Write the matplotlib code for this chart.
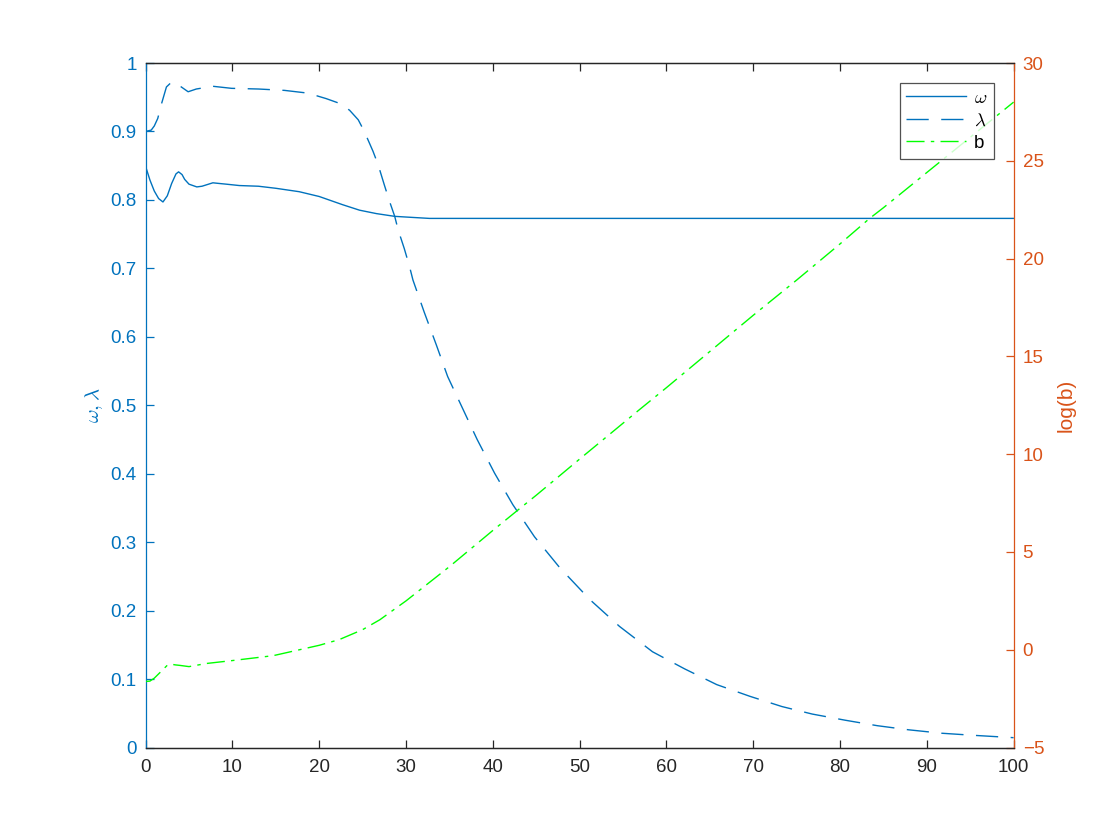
import matplotlib
matplotlib.use("Agg")
import matplotlib.pyplot as plt

# ---- data ----
x_omega = [0, 0.5, 1.0, 1.5, 2.0, 2.5, 3.0, 3.5, 3.8, 4.2, 4.5, 5.0, 5.9, 6.5, 7.0,
           7.75, 8.5, 9.3, 10.8, 13, 15, 17.7, 20, 22.7, 24.65, 26.6, 28.7, 30,
           32.7, 35, 40, 50, 60, 70, 80, 90, 100]
omega = [0.849, 0.829, 0.813, 0.802, 0.797, 0.806, 0.824, 0.838, 0.841, 0.837,
         0.830, 0.823, 0.819, 0.820, 0.822, 0.825, 0.824, 0.823, 0.821, 0.820,
         0.817, 0.812, 0.805, 0.793, 0.785, 0.780, 0.776, 0.775, 0.773, 0.773,
         0.773, 0.773, 0.773, 0.773, 0.773, 0.773, 0.773]

x_lambda = [0, 0.65, 1.0, 1.4, 1.8, 2.4, 2.9, 3.46, 4.0, 4.9, 5.84, 7.75, 9.9,
            13, 16, 18.7, 20.8, 22.35, 23.5, 24.5, 25.2, 26.2, 26.8, 27.5, 28.1,
            28.7, 29.1, 29.8, 30.4, 30.8, 32.1, 33.5, 34.8, 36.5, 38.2, 40.2,
            42.3, 44.8, 47.7, 51.2, 54.6, 58.4, 62.1, 65.8, 69.6, 73.3, 76.8,
            80.6, 84.3, 87.9, 91.7, 95.3, 100]
lam = [0.900, 0.902, 0.908, 0.919, 0.939, 0.965, 0.971, 0.972, 0.966, 0.958,
       0.962, 0.966, 0.963, 0.962, 0.960, 0.956, 0.948, 0.941, 0.931, 0.917,
       0.900, 0.871, 0.851, 0.822, 0.798, 0.776, 0.756, 0.729, 0.703, 0.683,
       0.636, 0.588, 0.542, 0.496, 0.450, 0.401, 0.355, 0.308, 0.263, 0.216,
       0.177, 0.140, 0.115, 0.092, 0.075, 0.060, 0.049, 0.040, 0.032, 0.026,
       0.021, 0.018, 0.0145]

x_b = [0, 0.5, 1.0, 1.8, 2.5, 3.0, 3.4, 4.0, 5.0, 7.0, 10, 14.7, 17.7, 20, 22.3,
       25, 27, 28.9, 30, 32, 35, 40, 43.1, 45, 50, 56.9, 60, 65, 70, 75, 80,
       83.4, 85, 90, 95, 100]
log_b = [-1.62, -1.60, -1.45, -1.10, -0.79, -0.74, -0.77, -0.80, -0.86, -0.70,
         -0.55, -0.30, 0.00, 0.23, 0.52, 1.03, 1.54, 2.15, 2.50, 3.20, 4.25,
         6.10, 7.22, 7.90, 9.75, 12.28, 13.40, 15.25, 17.10, 18.90, 20.75,
         22.05, 22.60, 24.40, 26.20, 28.00]

x_ticks = list(range(0, 101, 10))
left_ticks = [0, 0.1, 0.2, 0.3, 0.4, 0.5, 0.6, 0.7, 0.8, 0.9, 1]
left_ticklabels = ["0", "0.1", "0.2", "0.3", "0.4", "0.5", "0.6", "0.7", "0.8", "0.9", "1"]
right_ticks = [-5, 0, 5, 10, 15, 20, 25, 30]

# ---- style ----
BLUE = "#0072BD"
ORANGE = "#D95319"
GREEN = "#00FF00"
DARK = "#262626"

plt.rcParams["font.family"] = ["Liberation Sans", "DejaVu Sans"]
plt.rcParams["mathtext.fontset"] = "cm"

fig = plt.figure(figsize=(11.2, 8.4), dpi=100)
ax = fig.add_axes([0.13, 0.11, 0.775, 0.815])
ax2 = ax.twinx()

l1, = ax.plot(x_omega, omega, color=BLUE, lw=1.0, label=r"$\omega$")
l2, = ax.plot(x_lambda, lam, color=BLUE, lw=1.0, linestyle=(0, (16, 9)),
              label=r"$\lambda$")
l3, = ax2.plot(x_b, log_b, color=GREEN, lw=1.0,
               linestyle=(0, (13, 4.5, 2.5, 4.5)), label="b")

ax.set_xlim(0, 100)
ax.set_ylim(0, 1)
ax2.set_ylim(-5, 30)
ax.set_xticks(x_ticks)
ax.set_yticks(left_ticks)
ax.set_yticklabels(left_ticklabels)
ax2.set_yticks(right_ticks)

# spines
for a in (ax, ax2):
    a.spines["top"].set_color(DARK)
    a.spines["bottom"].set_color(DARK)
    a.spines["left"].set_color(BLUE)
    a.spines["right"].set_color(ORANGE)
    for s in a.spines.values():
        s.set_linewidth(0.9)
ax.spines["right"].set_visible(False)
ax2.spines["left"].set_visible(False)

ax.tick_params(axis="x", direction="in", length=5.8, width=0.9, colors=DARK,
               labelsize=13.5, pad=8, top=True)
ax.tick_params(axis="y", direction="in", length=5.8, width=0.9, colors=BLUE,
               labelsize=13.5, pad=6.5)
ax2.tick_params(axis="y", direction="in", length=5.8, width=0.9, colors=ORANGE,
                labelsize=13.5, pad=6.5)

ax.set_ylabel(r"$\omega,\lambda$", color=BLUE, fontsize=15, labelpad=4)
ax2.set_ylabel("log(b)", color=ORANGE, fontsize=15, labelpad=9)

leg = ax2.legend(handles=[l1, l2, l3], loc="upper right",
                 bbox_to_anchor=(0.977, 0.971), borderaxespad=0,
                 fontsize=13.5, frameon=True, fancybox=False,
                 handlelength=3.2, handletextpad=0.4, labelspacing=0.3,
                 borderpad=0.35)
leg.get_frame().set_edgecolor(DARK)
leg.get_frame().set_linewidth(0.9)
leg.set_zorder(10)

fig.savefig("out.png", dpi=100, facecolor="white")
